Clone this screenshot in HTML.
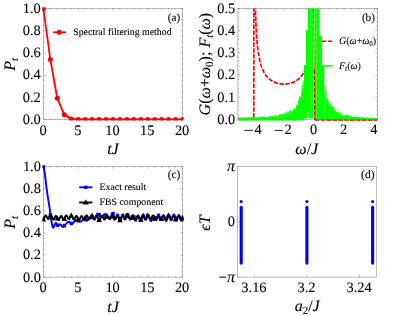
<!DOCTYPE html>
<html><head><meta charset="utf-8"><title>fig</title>
<style>
html,body{margin:0;padding:0;background:#fff;}
svg text{stroke:#000;stroke-width:0.1px;}
svg{display:block;will-change:transform;text-rendering:geometricPrecision;font-family:"Liberation Serif",serif;fill:#000;}
</style></head><body>
<svg width="395" height="316" viewBox="0 0 395 316">
<rect width="395" height="316" fill="#fff"/>
<rect x="43.40" y="8.50" width="139.10" height="110.90" fill="none" stroke="#9a9a9a" stroke-width="0.7"/>
<path d="M43.40 119.40v-2.2M43.40 8.50v2.2" stroke="#808080" stroke-width="0.55"/>
<path d="M50.35 119.40v-1.3M50.35 8.50v1.3" stroke="#808080" stroke-width="0.55"/>
<path d="M57.31 119.40v-1.3M57.31 8.50v1.3" stroke="#808080" stroke-width="0.55"/>
<path d="M64.27 119.40v-1.3M64.27 8.50v1.3" stroke="#808080" stroke-width="0.55"/>
<path d="M71.22 119.40v-1.3M71.22 8.50v1.3" stroke="#808080" stroke-width="0.55"/>
<path d="M78.17 119.40v-2.2M78.17 8.50v2.2" stroke="#808080" stroke-width="0.55"/>
<path d="M85.13 119.40v-1.3M85.13 8.50v1.3" stroke="#808080" stroke-width="0.55"/>
<path d="M92.08 119.40v-1.3M92.08 8.50v1.3" stroke="#808080" stroke-width="0.55"/>
<path d="M99.04 119.40v-1.3M99.04 8.50v1.3" stroke="#808080" stroke-width="0.55"/>
<path d="M105.99 119.40v-1.3M105.99 8.50v1.3" stroke="#808080" stroke-width="0.55"/>
<path d="M112.95 119.40v-2.2M112.95 8.50v2.2" stroke="#808080" stroke-width="0.55"/>
<path d="M119.91 119.40v-1.3M119.91 8.50v1.3" stroke="#808080" stroke-width="0.55"/>
<path d="M126.86 119.40v-1.3M126.86 8.50v1.3" stroke="#808080" stroke-width="0.55"/>
<path d="M133.81 119.40v-1.3M133.81 8.50v1.3" stroke="#808080" stroke-width="0.55"/>
<path d="M140.77 119.40v-1.3M140.77 8.50v1.3" stroke="#808080" stroke-width="0.55"/>
<path d="M147.72 119.40v-2.2M147.72 8.50v2.2" stroke="#808080" stroke-width="0.55"/>
<path d="M154.68 119.40v-1.3M154.68 8.50v1.3" stroke="#808080" stroke-width="0.55"/>
<path d="M161.63 119.40v-1.3M161.63 8.50v1.3" stroke="#808080" stroke-width="0.55"/>
<path d="M168.59 119.40v-1.3M168.59 8.50v1.3" stroke="#808080" stroke-width="0.55"/>
<path d="M175.55 119.40v-1.3M175.55 8.50v1.3" stroke="#808080" stroke-width="0.55"/>
<path d="M182.50 119.40v-2.2M182.50 8.50v2.2" stroke="#808080" stroke-width="0.55"/>
<path d="M43.40 119.40h2.2M182.50 119.40h-2.2" stroke="#808080" stroke-width="0.55"/>
<path d="M43.40 113.86h1.3M182.50 113.86h-1.3" stroke="#808080" stroke-width="0.55"/>
<path d="M43.40 108.31h1.3M182.50 108.31h-1.3" stroke="#808080" stroke-width="0.55"/>
<path d="M43.40 102.77h1.3M182.50 102.77h-1.3" stroke="#808080" stroke-width="0.55"/>
<path d="M43.40 97.22h2.2M182.50 97.22h-2.2" stroke="#808080" stroke-width="0.55"/>
<path d="M43.40 91.68h1.3M182.50 91.68h-1.3" stroke="#808080" stroke-width="0.55"/>
<path d="M43.40 86.13h1.3M182.50 86.13h-1.3" stroke="#808080" stroke-width="0.55"/>
<path d="M43.40 80.59h1.3M182.50 80.59h-1.3" stroke="#808080" stroke-width="0.55"/>
<path d="M43.40 75.04h2.2M182.50 75.04h-2.2" stroke="#808080" stroke-width="0.55"/>
<path d="M43.40 69.50h1.3M182.50 69.50h-1.3" stroke="#808080" stroke-width="0.55"/>
<path d="M43.40 63.95h1.3M182.50 63.95h-1.3" stroke="#808080" stroke-width="0.55"/>
<path d="M43.40 58.41h1.3M182.50 58.41h-1.3" stroke="#808080" stroke-width="0.55"/>
<path d="M43.40 52.86h2.2M182.50 52.86h-2.2" stroke="#808080" stroke-width="0.55"/>
<path d="M43.40 47.31h1.3M182.50 47.31h-1.3" stroke="#808080" stroke-width="0.55"/>
<path d="M43.40 41.77h1.3M182.50 41.77h-1.3" stroke="#808080" stroke-width="0.55"/>
<path d="M43.40 36.22h1.3M182.50 36.22h-1.3" stroke="#808080" stroke-width="0.55"/>
<path d="M43.40 30.68h2.2M182.50 30.68h-2.2" stroke="#808080" stroke-width="0.55"/>
<path d="M43.40 25.13h1.3M182.50 25.13h-1.3" stroke="#808080" stroke-width="0.55"/>
<path d="M43.40 19.59h1.3M182.50 19.59h-1.3" stroke="#808080" stroke-width="0.55"/>
<path d="M43.40 14.04h1.3M182.50 14.04h-1.3" stroke="#808080" stroke-width="0.55"/>
<path d="M43.40 8.50h2.2M182.50 8.50h-2.2" stroke="#808080" stroke-width="0.55"/>
<text x="40.80" y="123.70" font-size="14.4" text-anchor="end"  style="">0.0</text>
<text x="40.80" y="101.52" font-size="14.4" text-anchor="end"  style="">0.2</text>
<text x="40.80" y="79.34" font-size="14.4" text-anchor="end"  style="">0.4</text>
<text x="40.80" y="57.16" font-size="14.4" text-anchor="end"  style="">0.6</text>
<text x="40.80" y="34.98" font-size="14.4" text-anchor="end"  style="">0.8</text>
<text x="40.80" y="12.80" font-size="14.4" text-anchor="end"  style="">1.0</text>
<text x="43.00" y="134.50" font-size="14.4" text-anchor="middle"  style="">0</text>
<text x="77.77" y="134.50" font-size="14.4" text-anchor="middle"  style="">5</text>
<text x="112.55" y="134.50" font-size="14.4" text-anchor="middle"  style="">10</text>
<text x="147.32" y="134.50" font-size="14.4" text-anchor="middle"  style="">15</text>
<text x="182.10" y="134.50" font-size="14.4" text-anchor="middle"  style="">20</text>
<text x="112.95" y="153.90" font-size="16" text-anchor="middle"  style=""><tspan font-style="italic">tJ</tspan></text>
<text transform="translate(15.3,64.3) rotate(-90)" font-size="16" text-anchor="middle" font-style="italic">P<tspan font-size="11" dy="3">t</tspan></text>
<clipPath id="ca"><rect x="42.199999999999996" y="7.3" width="141.5" height="113.30000000000001"/></clipPath>
<g clip-path="url(#ca)">
<polyline points="43.40,8.50 50.35,59.51 57.31,98.33 64.27,114.63 71.22,118.96 78.17,119.40 85.13,119.40 92.08,119.40 99.04,119.40 105.99,119.40 112.95,119.40 119.91,119.40 126.86,119.40 133.81,119.40 140.77,119.40 147.72,119.40 154.68,119.40 161.63,119.40 168.59,119.40 175.55,119.40 182.50,119.40" fill="none" stroke="#f00" stroke-width="1.8" stroke-linejoin="round"/>
<circle cx="43.40" cy="8.50" r="2.5" fill="#f00"/>
<circle cx="50.35" cy="59.51" r="2.5" fill="#f00"/>
<circle cx="57.31" cy="98.33" r="2.5" fill="#f00"/>
<circle cx="64.27" cy="114.63" r="2.5" fill="#f00"/>
<circle cx="71.22" cy="118.96" r="2.5" fill="#f00"/>
<circle cx="78.17" cy="119.40" r="2.5" fill="#f00"/>
<circle cx="85.13" cy="119.40" r="2.5" fill="#f00"/>
<circle cx="92.08" cy="119.40" r="2.5" fill="#f00"/>
<circle cx="99.04" cy="119.40" r="2.5" fill="#f00"/>
<circle cx="105.99" cy="119.40" r="2.5" fill="#f00"/>
<circle cx="112.95" cy="119.40" r="2.5" fill="#f00"/>
<circle cx="119.91" cy="119.40" r="2.5" fill="#f00"/>
<circle cx="126.86" cy="119.40" r="2.5" fill="#f00"/>
<circle cx="133.81" cy="119.40" r="2.5" fill="#f00"/>
<circle cx="140.77" cy="119.40" r="2.5" fill="#f00"/>
<circle cx="147.72" cy="119.40" r="2.5" fill="#f00"/>
<circle cx="154.68" cy="119.40" r="2.5" fill="#f00"/>
<circle cx="161.63" cy="119.40" r="2.5" fill="#f00"/>
<circle cx="168.59" cy="119.40" r="2.5" fill="#f00"/>
<circle cx="175.55" cy="119.40" r="2.5" fill="#f00"/>
<circle cx="182.50" cy="119.40" r="2.5" fill="#f00"/>
</g>
<path d="M53 32.3h13" stroke="#f00" stroke-width="1.8"/><circle cx="59.2" cy="32.3" r="2.5" fill="#f00"/>
<text x="73.20" y="35.30" font-size="9.85" text-anchor="start"  style="">Spectral filtering method</text>
<text x="174.00" y="21.00" font-size="11.2" text-anchor="middle"  style="">(a)</text>
<rect x="43.50" y="166.50" width="139.00" height="110.70" fill="none" stroke="#9a9a9a" stroke-width="0.7"/>
<path d="M43.50 277.20v-2.2M43.50 166.50v2.2" stroke="#808080" stroke-width="0.55"/>
<path d="M50.45 277.20v-1.3M50.45 166.50v1.3" stroke="#808080" stroke-width="0.55"/>
<path d="M57.40 277.20v-1.3M57.40 166.50v1.3" stroke="#808080" stroke-width="0.55"/>
<path d="M64.35 277.20v-1.3M64.35 166.50v1.3" stroke="#808080" stroke-width="0.55"/>
<path d="M71.30 277.20v-1.3M71.30 166.50v1.3" stroke="#808080" stroke-width="0.55"/>
<path d="M78.25 277.20v-2.2M78.25 166.50v2.2" stroke="#808080" stroke-width="0.55"/>
<path d="M85.20 277.20v-1.3M85.20 166.50v1.3" stroke="#808080" stroke-width="0.55"/>
<path d="M92.15 277.20v-1.3M92.15 166.50v1.3" stroke="#808080" stroke-width="0.55"/>
<path d="M99.10 277.20v-1.3M99.10 166.50v1.3" stroke="#808080" stroke-width="0.55"/>
<path d="M106.05 277.20v-1.3M106.05 166.50v1.3" stroke="#808080" stroke-width="0.55"/>
<path d="M113.00 277.20v-2.2M113.00 166.50v2.2" stroke="#808080" stroke-width="0.55"/>
<path d="M119.95 277.20v-1.3M119.95 166.50v1.3" stroke="#808080" stroke-width="0.55"/>
<path d="M126.90 277.20v-1.3M126.90 166.50v1.3" stroke="#808080" stroke-width="0.55"/>
<path d="M133.85 277.20v-1.3M133.85 166.50v1.3" stroke="#808080" stroke-width="0.55"/>
<path d="M140.80 277.20v-1.3M140.80 166.50v1.3" stroke="#808080" stroke-width="0.55"/>
<path d="M147.75 277.20v-2.2M147.75 166.50v2.2" stroke="#808080" stroke-width="0.55"/>
<path d="M154.70 277.20v-1.3M154.70 166.50v1.3" stroke="#808080" stroke-width="0.55"/>
<path d="M161.65 277.20v-1.3M161.65 166.50v1.3" stroke="#808080" stroke-width="0.55"/>
<path d="M168.60 277.20v-1.3M168.60 166.50v1.3" stroke="#808080" stroke-width="0.55"/>
<path d="M175.55 277.20v-1.3M175.55 166.50v1.3" stroke="#808080" stroke-width="0.55"/>
<path d="M182.50 277.20v-2.2M182.50 166.50v2.2" stroke="#808080" stroke-width="0.55"/>
<path d="M43.50 277.20h2.2M182.50 277.20h-2.2" stroke="#808080" stroke-width="0.55"/>
<path d="M43.50 271.66h1.3M182.50 271.66h-1.3" stroke="#808080" stroke-width="0.55"/>
<path d="M43.50 266.13h1.3M182.50 266.13h-1.3" stroke="#808080" stroke-width="0.55"/>
<path d="M43.50 260.59h1.3M182.50 260.59h-1.3" stroke="#808080" stroke-width="0.55"/>
<path d="M43.50 255.06h2.2M182.50 255.06h-2.2" stroke="#808080" stroke-width="0.55"/>
<path d="M43.50 249.52h1.3M182.50 249.52h-1.3" stroke="#808080" stroke-width="0.55"/>
<path d="M43.50 243.99h1.3M182.50 243.99h-1.3" stroke="#808080" stroke-width="0.55"/>
<path d="M43.50 238.45h1.3M182.50 238.45h-1.3" stroke="#808080" stroke-width="0.55"/>
<path d="M43.50 232.92h2.2M182.50 232.92h-2.2" stroke="#808080" stroke-width="0.55"/>
<path d="M43.50 227.38h1.3M182.50 227.38h-1.3" stroke="#808080" stroke-width="0.55"/>
<path d="M43.50 221.85h1.3M182.50 221.85h-1.3" stroke="#808080" stroke-width="0.55"/>
<path d="M43.50 216.31h1.3M182.50 216.31h-1.3" stroke="#808080" stroke-width="0.55"/>
<path d="M43.50 210.78h2.2M182.50 210.78h-2.2" stroke="#808080" stroke-width="0.55"/>
<path d="M43.50 205.25h1.3M182.50 205.25h-1.3" stroke="#808080" stroke-width="0.55"/>
<path d="M43.50 199.71h1.3M182.50 199.71h-1.3" stroke="#808080" stroke-width="0.55"/>
<path d="M43.50 194.18h1.3M182.50 194.18h-1.3" stroke="#808080" stroke-width="0.55"/>
<path d="M43.50 188.64h2.2M182.50 188.64h-2.2" stroke="#808080" stroke-width="0.55"/>
<path d="M43.50 183.10h1.3M182.50 183.10h-1.3" stroke="#808080" stroke-width="0.55"/>
<path d="M43.50 177.57h1.3M182.50 177.57h-1.3" stroke="#808080" stroke-width="0.55"/>
<path d="M43.50 172.03h1.3M182.50 172.03h-1.3" stroke="#808080" stroke-width="0.55"/>
<path d="M43.50 166.50h2.2M182.50 166.50h-2.2" stroke="#808080" stroke-width="0.55"/>
<text x="40.90" y="281.50" font-size="14.4" text-anchor="end"  style="">0.0</text>
<text x="40.90" y="259.36" font-size="14.4" text-anchor="end"  style="">0.2</text>
<text x="40.90" y="237.22" font-size="14.4" text-anchor="end"  style="">0.4</text>
<text x="40.90" y="215.08" font-size="14.4" text-anchor="end"  style="">0.6</text>
<text x="40.90" y="192.94" font-size="14.4" text-anchor="end"  style="">0.8</text>
<text x="40.90" y="170.80" font-size="14.4" text-anchor="end"  style="">1.0</text>
<text x="43.10" y="292.30" font-size="14.4" text-anchor="middle"  style="">0</text>
<text x="77.85" y="292.30" font-size="14.4" text-anchor="middle"  style="">5</text>
<text x="112.60" y="292.30" font-size="14.4" text-anchor="middle"  style="">10</text>
<text x="147.35" y="292.30" font-size="14.4" text-anchor="middle"  style="">15</text>
<text x="182.10" y="292.30" font-size="14.4" text-anchor="middle"  style="">20</text>
<text x="113.00" y="311.90" font-size="16" text-anchor="middle"  style=""><tspan font-style="italic">tJ</tspan></text>
<text transform="translate(15.3,222.3) rotate(-90)" font-size="16" text-anchor="middle" font-style="italic">P<tspan font-size="11" dy="3">t</tspan></text>
<g clip-path="url(#cc)">
<clipPath id="cc"><rect x="42.3" y="165.3" width="141.4" height="113.1"/></clipPath>
<polyline points="43.50,166.50 43.57,166.87 43.65,167.31 43.75,167.82 43.87,168.40 43.99,169.03 44.12,169.71 44.25,170.42 44.39,171.17 44.52,171.93 44.65,172.70 44.77,173.48 44.89,174.25 45.00,175.03 45.10,175.85 45.21,176.70 45.31,177.57 45.41,178.46 45.51,179.36 45.61,180.28 45.71,181.20 45.81,182.13 45.92,183.05 46.03,183.97 46.14,184.88 46.26,185.78 46.38,186.67 46.50,187.57 46.62,188.47 46.74,189.37 46.87,190.28 46.99,191.19 47.12,192.10 47.26,193.03 47.39,193.95 47.53,194.89 47.67,195.84 47.82,196.79 47.97,197.76 48.12,198.73 48.28,199.71 48.44,200.70 48.60,201.70 48.77,202.69 48.93,203.69 49.09,204.69 49.25,205.69 49.40,206.69 49.55,207.68 49.69,208.69 49.83,209.71 49.96,210.75 50.09,211.80 50.22,212.86 50.35,213.90 50.47,214.93 50.60,215.94 50.73,216.92 50.87,217.87 51.00,218.78 51.15,219.64 51.29,220.47 51.44,221.32 51.60,222.17 51.76,222.99 51.92,223.79 52.08,224.56 52.25,225.26 52.41,225.91 52.57,226.48 52.72,226.96 52.87,227.34 53.02,227.61 53.17,227.74 53.31,227.73 53.45,227.60 53.58,227.37 53.72,227.07 53.85,226.71 53.98,226.32 54.11,225.92 54.24,225.53 54.37,225.17 54.49,224.85 54.62,224.62 54.74,224.42 54.86,224.21 54.97,224.00 55.07,223.79 55.18,223.59 55.28,223.41 55.39,223.24 55.50,223.11 55.62,223.01 55.74,222.94 55.87,222.92 56.01,222.96 56.16,223.06 56.32,223.25 56.48,223.51 56.65,223.82 56.83,224.16 57.01,224.51 57.19,224.87 57.37,225.21 57.56,225.51 57.74,225.77 57.92,225.95 58.09,226.06 58.27,226.07 58.43,225.99 58.60,225.86 58.76,225.67 58.93,225.45 59.09,225.21 59.26,224.96 59.43,224.74 59.61,224.54 59.79,224.39 59.98,224.30 60.18,224.29 60.39,224.36 60.60,224.52 60.83,224.74 61.06,225.01 61.29,225.31 61.53,225.62 61.77,225.93 62.01,226.22 62.25,226.47 62.49,226.66 62.73,226.79 62.96,226.83 63.19,226.79 63.42,226.67 63.66,226.50 63.89,226.28 64.12,226.03 64.35,225.75 64.58,225.45 64.81,225.14 65.05,224.84 65.28,224.55 65.51,224.29 65.74,224.06 65.97,223.85 66.20,223.62 66.42,223.38 66.64,223.14 66.86,222.91 67.09,222.68 67.31,222.47 67.54,222.28 67.78,222.12 68.02,221.99 68.26,221.90 68.52,221.85 68.78,221.87 69.05,221.96 69.32,222.11 69.59,222.31 69.87,222.53 70.15,222.76 70.44,222.98 70.73,223.19 71.04,223.36 71.35,223.48 71.67,223.54 72.00,223.51 72.34,223.39 72.70,223.17 73.07,222.89 73.45,222.55 73.84,222.18 74.23,221.79 74.63,221.40 75.02,221.03 75.41,220.69 75.79,220.41 76.16,220.20 76.51,220.08 76.86,220.06 77.19,220.13 77.53,220.26 77.85,220.45 78.17,220.68 78.49,220.92 78.80,221.17 79.11,221.40 79.42,221.60 79.73,221.76 80.03,221.84 80.33,221.85 80.64,221.76 80.93,221.60 81.23,221.38 81.52,221.11 81.81,220.81 82.09,220.49 82.38,220.17 82.66,219.86 82.95,219.58 83.23,219.35 83.52,219.18 83.81,219.08 84.10,219.07 84.39,219.14 84.68,219.27 84.97,219.44 85.26,219.64 85.55,219.86 85.84,220.07 86.13,220.26 86.42,220.42 86.71,220.53 87.00,220.57 87.28,220.52 87.57,220.38 87.86,220.15 88.15,219.84 88.44,219.48 88.73,219.09 89.02,218.68 89.31,218.27 89.60,217.88 89.89,217.53 90.18,217.23 90.47,217.00 90.76,216.87 91.05,216.84 91.34,216.91 91.63,217.07 91.92,217.27 92.21,217.52 92.50,217.78 92.79,218.04 93.08,218.27 93.37,218.46 93.66,218.58 93.95,218.61 94.23,218.53 94.52,218.32 94.81,217.99 95.10,217.56 95.39,217.05 95.68,216.50 95.97,215.93 96.26,215.37 96.55,214.84 96.84,214.36 97.13,213.97 97.42,213.69 97.71,213.55 98.00,213.55 98.29,213.69 98.58,213.93 98.87,214.26 99.16,214.64 99.45,215.06 99.74,215.48 100.03,215.89 100.32,216.26 100.61,216.56 100.90,216.77 101.19,216.87 101.47,216.84 101.76,216.72 102.05,216.51 102.34,216.25 102.63,215.94 102.92,215.61 103.21,215.28 103.50,214.97 103.79,214.70 104.08,214.49 104.37,214.36 104.66,214.32 104.96,214.39 105.28,214.55 105.61,214.77 105.95,215.05 106.28,215.37 106.61,215.71 106.93,216.06 107.23,216.41 107.51,216.73 107.76,217.02 107.97,217.25 108.14,217.42 108.38,217.25 108.63,217.18 108.88,217.21 109.13,217.34 109.37,217.53 109.62,217.73 109.87,217.88 110.12,217.94 110.37,217.84 110.61,217.54 110.86,217.04 111.11,216.35 111.36,215.51 111.61,214.57 111.85,213.88 112.10,213.35 112.35,213.04 112.60,212.96 112.84,213.15 113.09,213.56 113.34,214.19 113.59,214.96 113.84,215.82 114.08,216.68 114.33,217.48 114.58,218.15 114.83,218.63 115.08,218.88 115.32,218.89 115.57,218.67 115.82,218.23 116.07,217.63 116.32,216.93 116.56,216.20 116.81,215.52 117.06,214.95 117.31,214.56 117.55,214.38 117.80,214.43 118.05,214.73 118.30,215.24 118.55,215.92 118.79,216.71 119.04,217.54 119.29,218.35 119.54,219.05 119.79,219.58 120.03,219.90 120.28,219.97 120.53,219.79 120.78,219.38 121.02,218.76 121.27,218.01 121.52,217.17 121.77,216.34 122.02,215.57 122.26,214.94 122.51,214.51 122.76,214.30 123.01,214.34 123.26,214.61 123.50,215.09 123.75,215.73 124.00,216.46 124.25,217.21 124.50,217.91 124.74,218.49 124.99,218.89 125.24,219.07 125.49,219.02 125.73,218.73 125.98,218.22 126.23,217.55 126.48,216.78 126.73,215.96 126.97,215.19 127.22,214.52 127.47,214.03 127.72,213.76 127.97,213.73 128.21,213.95 128.46,214.41 128.71,215.06 128.96,215.85 129.21,216.72 129.45,217.57 129.70,218.36 129.95,218.99 130.20,219.44 130.44,219.65 130.69,219.62 130.94,219.36 131.19,218.89 131.44,218.28 131.68,217.58 131.93,216.86 132.18,216.20 132.43,215.67 132.68,215.32 132.92,215.19 133.17,215.30 133.42,215.65 133.67,216.20 133.91,216.92 134.16,217.74 134.41,218.58 134.66,219.39 134.91,220.07 135.15,220.58 135.40,220.87 135.65,220.91 135.90,220.70 136.15,220.25 136.39,219.61 136.64,218.84 136.89,218.01 137.14,217.18 137.39,216.44 137.63,215.84 137.88,215.44 138.13,215.27 138.38,215.34 138.62,215.65 138.87,216.15 139.12,216.79 139.37,217.51 139.62,218.24 139.86,218.90 140.11,219.43 140.36,219.77 140.61,219.89 140.86,219.77 141.10,219.41 141.35,218.84 141.60,218.12 141.85,217.29 142.10,216.45 142.34,215.66 142.59,214.98 142.84,214.49 143.09,214.23 143.33,214.21 143.58,214.44 143.83,214.91 144.08,215.56 144.33,216.33 144.57,217.17 144.82,217.99 145.07,218.72 145.32,219.30 145.57,219.68 145.81,219.83 146.06,219.74 146.31,219.42 146.56,218.91 146.80,218.26 147.05,217.53 147.30,216.81 147.55,216.16 147.80,215.65 148.04,215.34 148.29,215.25 148.54,215.40 148.79,215.79 149.04,216.38 149.28,217.13 149.53,217.96 149.78,218.82 150.03,219.61 150.28,220.28 150.52,220.77 150.77,221.02 151.02,221.03 151.27,220.78 151.51,220.32 151.76,219.66 152.01,218.89 152.26,218.06 152.51,217.26 152.75,216.54 153.00,215.99 153.25,215.64 153.50,215.52 153.75,215.64 153.99,215.98 154.24,216.52 154.49,217.18 154.74,217.91 154.98,218.63 155.23,219.27 155.48,219.76 155.73,220.06 155.98,220.12 156.22,219.95 156.47,219.53 156.72,218.92 156.97,218.16 157.22,217.31 157.46,216.46 157.71,215.66 157.96,215.00 158.21,214.52 158.46,214.28 158.70,214.29 158.95,214.54 159.20,215.02 159.45,215.68 159.69,216.45 159.94,217.27 160.19,218.06 160.44,218.75 160.69,219.28 160.93,219.61 161.18,219.70 161.43,219.55 161.68,219.18 161.93,218.63 162.17,217.95 162.42,217.22 162.67,216.50 162.92,215.87 163.17,215.39 163.41,215.11 163.66,215.07 163.91,215.27 164.16,215.70 164.40,216.34 164.65,217.11 164.90,217.97 165.15,218.83 165.40,219.63 165.64,220.28 165.89,220.74 166.14,220.97 166.39,220.95 166.64,220.69 166.88,220.20 167.13,219.54 167.38,218.77 167.63,217.96 167.87,217.19 168.12,216.51 168.37,216.01 168.62,215.71 168.87,215.65 169.11,215.83 169.36,216.22 169.61,216.80 169.86,217.48 170.11,218.23 170.35,218.94 170.60,219.57 170.85,220.03 171.10,220.29 171.35,220.31 171.59,220.09 171.84,219.63 172.09,218.98 172.34,218.19 172.58,217.33 172.83,216.46 173.08,215.67 173.33,215.02 173.58,214.57 173.82,214.36 174.07,214.39 174.32,214.67 174.57,215.16 174.82,215.83 175.06,216.59 175.31,217.39 175.56,218.15 175.81,218.80 176.06,219.28 176.30,219.55 176.55,219.58 176.80,219.37 177.05,218.95 177.29,218.36 177.54,217.66 177.79,216.91 178.04,216.19 178.29,215.58 178.53,215.13 178.78,214.89 179.03,214.89 179.28,215.13 179.53,215.61 179.77,216.27 180.02,217.08 180.27,217.95 180.52,218.81 180.76,219.60 181.01,220.24 181.26,220.67 181.51,220.88 181.76,220.83 182.00,220.54 182.25,220.03 182.50,219.37" fill="none" stroke="#00f" stroke-width="1.9" stroke-linejoin="round"/>
<rect x="41.80" y="164.80" width="3.4" height="3.4" fill="#00f"/>
<rect x="48.75" y="213.23" width="3.4" height="3.4" fill="#00f"/>
<rect x="55.70" y="223.51" width="3.4" height="3.4" fill="#00f"/>
<rect x="62.65" y="224.05" width="3.4" height="3.4" fill="#00f"/>
<rect x="69.60" y="221.78" width="3.4" height="3.4" fill="#00f"/>
<rect x="76.55" y="218.98" width="3.4" height="3.4" fill="#00f"/>
<rect x="83.50" y="217.94" width="3.4" height="3.4" fill="#00f"/>
<rect x="90.45" y="215.82" width="3.4" height="3.4" fill="#00f"/>
<rect x="97.40" y="212.94" width="3.4" height="3.4" fill="#00f"/>
<rect x="104.35" y="213.35" width="3.4" height="3.4" fill="#00f"/>
<rect x="111.30" y="211.86" width="3.4" height="3.4" fill="#00f"/>
<rect x="118.25" y="218.20" width="3.4" height="3.4" fill="#00f"/>
<rect x="125.20" y="213.49" width="3.4" height="3.4" fill="#00f"/>
<rect x="132.15" y="215.22" width="3.4" height="3.4" fill="#00f"/>
<rect x="139.10" y="218.07" width="3.4" height="3.4" fill="#00f"/>
<rect x="146.05" y="213.95" width="3.4" height="3.4" fill="#00f"/>
<rect x="153.00" y="216.21" width="3.4" height="3.4" fill="#00f"/>
<rect x="159.95" y="217.48" width="3.4" height="3.4" fill="#00f"/>
<rect x="166.90" y="214.01" width="3.4" height="3.4" fill="#00f"/>
<rect x="173.85" y="216.45" width="3.4" height="3.4" fill="#00f"/>
<rect x="180.80" y="217.67" width="3.4" height="3.4" fill="#00f"/>
<polyline points="43.50,219.51 43.78,219.12 44.06,218.56 44.33,217.89 44.61,217.17 44.89,216.50 45.17,215.93 45.45,215.54 45.72,215.37 46.00,215.43 46.28,215.71 46.56,216.18 46.84,216.78 47.11,217.44 47.39,218.08 47.67,218.62 47.95,219.00 48.23,219.18 48.50,219.14 48.78,218.87 49.06,218.41 49.34,217.82 49.62,217.16 49.89,216.51 50.17,215.95 50.45,215.54 50.73,215.34 51.01,215.36 51.28,215.62 51.56,216.08 51.84,216.69 52.12,217.39 52.40,218.09 52.67,218.73 52.95,219.23 53.23,219.53 53.51,219.61 53.79,219.47 54.06,219.11 54.34,218.59 54.62,217.97 54.90,217.33 55.18,216.75 55.45,216.29 55.73,216.01 56.01,215.96 56.29,216.13 56.57,216.51 56.84,217.06 57.12,217.72 57.40,218.42 57.68,219.07 57.96,219.60 58.23,219.95 58.51,220.08 58.79,219.98 59.07,219.65 59.35,219.14 59.62,218.51 59.90,217.82 60.18,217.15 60.46,216.58 60.74,216.18 61.01,215.98 61.29,216.01 61.57,216.27 61.85,216.71 62.13,217.28 62.40,217.92 62.68,218.55 62.96,219.08 63.24,219.46 63.52,219.63 63.79,219.58 64.07,219.30 64.35,218.82 64.63,218.20 64.91,217.49 65.18,216.79 65.46,216.16 65.74,215.68 66.02,215.40 66.30,215.34 66.57,215.52 66.85,215.90 67.13,216.45 67.41,217.09 67.69,217.75 67.96,218.35 68.24,218.83 68.52,219.12 68.80,219.19 69.08,219.03 69.35,218.67 69.63,218.14 69.91,217.51 70.19,216.84 70.47,216.23 70.74,215.74 71.02,215.43 71.30,215.35 71.58,215.49 71.86,215.86 72.13,216.40 72.41,217.07 72.69,217.78 72.97,218.46 73.25,219.04 73.52,219.45 73.80,219.64 74.08,219.61 74.36,219.35 74.64,218.90 74.91,218.33 75.19,217.69 75.47,217.06 75.75,216.53 76.03,216.16 76.30,215.99 76.58,216.04 76.86,216.32 77.14,216.79 77.42,217.40 77.69,218.08 77.97,218.76 78.25,219.36 78.53,219.80 78.81,220.04 79.08,220.05 79.36,219.83 79.64,219.41 79.92,218.82 80.20,218.15 80.47,217.46 80.75,216.83 81.03,216.33 81.31,216.03 81.59,215.94 81.86,216.08 82.14,216.43 82.42,216.95 82.70,217.56 82.98,218.20 83.25,218.79 83.53,219.25 83.81,219.54 84.09,219.60 84.37,219.43 84.64,219.05 84.92,218.49 85.20,217.82 85.48,217.10 85.76,216.43 86.03,215.87 86.31,215.48 86.59,215.32 86.87,215.38 87.15,215.67 87.42,216.14 87.70,216.75 87.98,217.41 88.26,218.06 88.54,218.61 88.81,219.00 89.09,219.18 89.37,219.14 89.65,218.88 89.93,218.43 90.20,217.85 90.48,217.19 90.76,216.55 91.04,215.99 91.32,215.59 91.59,215.39 91.87,215.42 92.15,215.68 92.43,216.14 92.71,216.76 92.98,217.46 93.26,218.17 93.54,218.81 93.82,219.30 94.10,219.61 94.37,219.69 94.65,219.54 94.93,219.18 95.21,218.66 95.49,218.04 95.76,217.40 96.04,216.81 96.32,216.35 96.60,216.07 96.88,216.01 97.15,216.17 97.43,216.55 97.71,217.10 97.99,217.75 98.27,218.44 98.54,219.08 98.82,219.60 99.10,219.95 99.38,220.07 99.66,219.97 99.93,219.63 100.21,219.12 100.49,218.48 100.77,217.78 101.05,217.11 101.32,216.54 101.60,216.13 101.88,215.93 102.16,215.95 102.44,216.20 102.71,216.64 102.99,217.21 103.27,217.85 103.55,218.47 103.83,219.00 104.10,219.38 104.38,219.56 104.66,219.50 104.94,219.22 105.22,218.75 105.49,218.13 105.77,217.43 106.05,216.73 106.33,216.10 106.61,215.62 106.88,215.35 107.16,215.30 107.44,215.48 107.72,215.87 108.00,216.42 108.27,217.07 108.55,217.73 108.83,218.34 109.11,218.82 109.39,219.12 109.66,219.20 109.94,219.05 110.22,218.69 110.50,218.17 110.78,217.54 111.05,216.88 111.33,216.28 111.61,215.79 111.89,215.49 112.17,215.41 112.44,215.56 112.72,215.92 113.00,216.47 113.28,217.14 113.56,217.85 113.83,218.54 114.11,219.12 114.39,219.52 114.67,219.72 114.95,219.68 115.22,219.42 115.50,218.98 115.78,218.40 116.06,217.75 116.34,217.13 116.61,216.59 116.89,216.21 117.17,216.03 117.45,216.08 117.73,216.36 118.00,216.82 118.28,217.43 118.56,218.10 118.84,218.78 119.12,219.36 119.39,219.80 119.67,220.03 119.95,220.04 120.23,219.81 120.51,219.38 120.78,218.79 121.06,218.11 121.34,217.41 121.62,216.78 121.90,216.28 122.17,215.97 122.45,215.88 122.73,216.02 123.01,216.36 123.29,216.88 123.56,217.49 123.84,218.13 124.12,218.71 124.40,219.18 124.68,219.46 124.95,219.52 125.23,219.35 125.51,218.97 125.79,218.42 126.07,217.75 126.34,217.04 126.62,216.37 126.90,215.82 127.18,215.43 127.46,215.27 127.73,215.34 128.01,215.63 128.29,216.11 128.57,216.73 128.85,217.40 129.12,218.05 129.40,218.60 129.68,219.00 129.96,219.20 130.24,219.16 130.51,218.91 130.79,218.46 131.07,217.88 131.35,217.23 131.63,216.60 131.90,216.04 132.18,215.65 132.46,215.45 132.74,215.49 133.02,215.75 133.29,216.21 133.57,216.83 133.85,217.53 134.13,218.24 134.41,218.88 134.68,219.38 134.96,219.69 135.24,219.77 135.52,219.61 135.80,219.25 136.07,218.73 136.35,218.11 136.63,217.46 136.91,216.87 137.19,216.40 137.46,216.12 137.74,216.05 138.02,216.21 138.30,216.58 138.58,217.12 138.85,217.77 139.13,218.45 139.41,219.08 139.69,219.60 139.97,219.94 140.24,220.06 140.52,219.94 140.80,219.60 141.08,219.08 141.36,218.43 141.63,217.73 141.91,217.06 142.19,216.48 142.47,216.07 142.75,215.86 143.02,215.88 143.30,216.13 143.58,216.57 143.86,217.14 144.14,217.77 144.41,218.39 144.69,218.93 144.97,219.31 145.25,219.48 145.53,219.43 145.80,219.15 146.08,218.68 146.36,218.06 146.64,217.37 146.92,216.67 147.19,216.05 147.47,215.58 147.75,215.30 148.03,215.26 148.31,215.45 148.58,215.84 148.86,216.40 149.14,217.05 149.42,217.73 149.70,218.35 149.97,218.83 150.25,219.14 150.53,219.22 150.81,219.08 151.09,218.73 151.36,218.21 151.64,217.59 151.92,216.93 152.20,216.33 152.48,215.85 152.75,215.55 153.03,215.47 153.31,215.63 153.59,216.00 153.87,216.55 154.14,217.22 154.42,217.93 154.70,218.61 154.98,219.19 155.26,219.60 155.53,219.79 155.81,219.75 156.09,219.49 156.37,219.04 156.65,218.46 156.92,217.81 157.20,217.18 157.48,216.64 157.76,216.25 158.04,216.07 158.31,216.11 158.59,216.38 158.87,216.84 159.15,217.44 159.43,218.11 159.70,218.77 159.98,219.36 160.26,219.79 160.54,220.01 160.82,220.01 161.09,219.78 161.37,219.34 161.65,218.75 161.93,218.06 162.21,217.36 162.48,216.72 162.76,216.22 163.04,215.90 163.32,215.81 163.60,215.94 163.87,216.29 164.15,216.80 164.43,217.41 164.71,218.05 164.99,218.64 165.26,219.10 165.54,219.38 165.82,219.45 166.10,219.29 166.38,218.91 166.65,218.35 166.93,217.69 167.21,216.99 167.49,216.32 167.77,215.77 168.04,215.40 168.32,215.24 168.60,215.31 168.88,215.61 169.16,216.10 169.43,216.72 169.71,217.40 169.99,218.05 170.27,218.62 170.55,219.02 170.82,219.22 171.10,219.19 171.38,218.95 171.66,218.51 171.94,217.93 172.21,217.29 172.49,216.65 172.77,216.11 173.05,215.71 173.33,215.52 173.60,215.56 173.88,215.82 174.16,216.29 174.44,216.91 174.72,217.61 174.99,218.32 175.27,218.96 175.55,219.46 175.83,219.76 176.11,219.84 176.38,219.68 176.66,219.32 176.94,218.79 177.22,218.16 177.50,217.51 177.77,216.91 178.05,216.44 178.33,216.15 178.61,216.08 178.89,216.23 179.16,216.60 179.44,217.13 179.72,217.77 180.00,218.44 180.28,219.07 180.55,219.58 180.83,219.91 181.11,220.03 181.39,219.91 181.67,219.56 181.94,219.04 182.22,218.38 182.50,217.68" fill="none" stroke="#000" stroke-width="1.9" stroke-linejoin="round"/>
<path d="M40.70 221.61L43.50 216.61L46.30 221.61Z" fill="#000"/>
<path d="M47.65 217.64L50.45 212.64L53.25 217.64Z" fill="#000"/>
<path d="M54.60 220.52L57.40 215.52L60.20 220.52Z" fill="#000"/>
<path d="M61.55 220.92L64.35 215.92L67.15 220.92Z" fill="#000"/>
<path d="M68.50 217.45L71.30 212.45L74.10 217.45Z" fill="#000"/>
<path d="M75.45 221.46L78.25 216.46L81.05 221.46Z" fill="#000"/>
<path d="M82.40 219.92L85.20 214.92L88.00 219.92Z" fill="#000"/>
<path d="M89.35 217.78L92.15 212.78L94.95 217.78Z" fill="#000"/>
<path d="M96.30 222.05L99.10 217.05L101.90 222.05Z" fill="#000"/>
<path d="M103.25 218.83L106.05 213.83L108.85 218.83Z" fill="#000"/>
<path d="M110.20 218.57L113.00 213.57L115.80 218.57Z" fill="#000"/>
<path d="M117.15 222.14L119.95 217.14L122.75 222.14Z" fill="#000"/>
<path d="M124.10 217.92L126.90 212.92L129.70 217.92Z" fill="#000"/>
<path d="M131.05 219.63L133.85 214.63L136.65 219.63Z" fill="#000"/>
<path d="M138.00 221.70L140.80 216.70L143.60 221.70Z" fill="#000"/>
<path d="M144.95 217.40L147.75 212.40L150.55 217.40Z" fill="#000"/>
<path d="M151.90 220.71L154.70 215.71L157.50 220.71Z" fill="#000"/>
<path d="M158.85 220.85L161.65 215.85L164.45 220.85Z" fill="#000"/>
<path d="M165.80 217.41L168.60 212.41L171.40 217.41Z" fill="#000"/>
<path d="M172.75 221.56L175.55 216.56L178.35 221.56Z" fill="#000"/>
<path d="M179.70 219.78L182.50 214.78L185.30 219.78Z" fill="#000"/>
</g>
<path d="M79.2 187.3h13.2" stroke="#00f" stroke-width="1.9"/><rect x="84.1" y="185.6" width="3.4" height="3.4" fill="#00f"/>
<path d="M79.2 202.5h13.2" stroke="#000" stroke-width="1.9"/><path d="M82.8 204.6L85.8 199.4L88.8 204.6Z" fill="#000"/>
<text x="99.50" y="190.00" font-size="9.85" text-anchor="start"  style="">Exact result</text>
<text x="99.50" y="205.10" font-size="9.85" text-anchor="start"  style="">FBS component</text>
<text x="174.00" y="177.90" font-size="11.4" text-anchor="middle"  style="">(c)</text>
<rect x="237.90" y="8.50" width="139.60" height="110.90" fill="none" stroke="#9a9a9a" stroke-width="0.7"/>
<path d="M238.75 119.40v-1.3M238.75 8.50v1.3" stroke="#808080" stroke-width="0.55"/>
<path d="M246.27 119.40v-1.3M246.27 8.50v1.3" stroke="#808080" stroke-width="0.55"/>
<path d="M253.80 119.40v-2.2M253.80 8.50v2.2" stroke="#808080" stroke-width="0.55"/>
<path d="M261.32 119.40v-1.3M261.32 8.50v1.3" stroke="#808080" stroke-width="0.55"/>
<path d="M268.85 119.40v-1.3M268.85 8.50v1.3" stroke="#808080" stroke-width="0.55"/>
<path d="M276.38 119.40v-1.3M276.38 8.50v1.3" stroke="#808080" stroke-width="0.55"/>
<path d="M283.90 119.40v-2.2M283.90 8.50v2.2" stroke="#808080" stroke-width="0.55"/>
<path d="M291.43 119.40v-1.3M291.43 8.50v1.3" stroke="#808080" stroke-width="0.55"/>
<path d="M298.95 119.40v-1.3M298.95 8.50v1.3" stroke="#808080" stroke-width="0.55"/>
<path d="M306.48 119.40v-1.3M306.48 8.50v1.3" stroke="#808080" stroke-width="0.55"/>
<path d="M314.00 119.40v-2.2M314.00 8.50v2.2" stroke="#808080" stroke-width="0.55"/>
<path d="M321.52 119.40v-1.3M321.52 8.50v1.3" stroke="#808080" stroke-width="0.55"/>
<path d="M329.05 119.40v-1.3M329.05 8.50v1.3" stroke="#808080" stroke-width="0.55"/>
<path d="M336.57 119.40v-1.3M336.57 8.50v1.3" stroke="#808080" stroke-width="0.55"/>
<path d="M344.10 119.40v-2.2M344.10 8.50v2.2" stroke="#808080" stroke-width="0.55"/>
<path d="M351.62 119.40v-1.3M351.62 8.50v1.3" stroke="#808080" stroke-width="0.55"/>
<path d="M359.15 119.40v-1.3M359.15 8.50v1.3" stroke="#808080" stroke-width="0.55"/>
<path d="M366.68 119.40v-1.3M366.68 8.50v1.3" stroke="#808080" stroke-width="0.55"/>
<path d="M374.20 119.40v-2.2M374.20 8.50v2.2" stroke="#808080" stroke-width="0.55"/>
<path d="M237.90 119.40h2.2M377.50 119.40h-2.2" stroke="#808080" stroke-width="0.55"/>
<path d="M237.90 114.96h1.3M377.50 114.96h-1.3" stroke="#808080" stroke-width="0.55"/>
<path d="M237.90 110.53h1.3M377.50 110.53h-1.3" stroke="#808080" stroke-width="0.55"/>
<path d="M237.90 106.09h1.3M377.50 106.09h-1.3" stroke="#808080" stroke-width="0.55"/>
<path d="M237.90 101.66h1.3M377.50 101.66h-1.3" stroke="#808080" stroke-width="0.55"/>
<path d="M237.90 97.22h2.2M377.50 97.22h-2.2" stroke="#808080" stroke-width="0.55"/>
<path d="M237.90 92.78h1.3M377.50 92.78h-1.3" stroke="#808080" stroke-width="0.55"/>
<path d="M237.90 88.35h1.3M377.50 88.35h-1.3" stroke="#808080" stroke-width="0.55"/>
<path d="M237.90 83.91h1.3M377.50 83.91h-1.3" stroke="#808080" stroke-width="0.55"/>
<path d="M237.90 79.48h1.3M377.50 79.48h-1.3" stroke="#808080" stroke-width="0.55"/>
<path d="M237.90 75.04h2.2M377.50 75.04h-2.2" stroke="#808080" stroke-width="0.55"/>
<path d="M237.90 70.60h1.3M377.50 70.60h-1.3" stroke="#808080" stroke-width="0.55"/>
<path d="M237.90 66.17h1.3M377.50 66.17h-1.3" stroke="#808080" stroke-width="0.55"/>
<path d="M237.90 61.73h1.3M377.50 61.73h-1.3" stroke="#808080" stroke-width="0.55"/>
<path d="M237.90 57.30h1.3M377.50 57.30h-1.3" stroke="#808080" stroke-width="0.55"/>
<path d="M237.90 52.86h2.2M377.50 52.86h-2.2" stroke="#808080" stroke-width="0.55"/>
<path d="M237.90 48.42h1.3M377.50 48.42h-1.3" stroke="#808080" stroke-width="0.55"/>
<path d="M237.90 43.99h1.3M377.50 43.99h-1.3" stroke="#808080" stroke-width="0.55"/>
<path d="M237.90 39.55h1.3M377.50 39.55h-1.3" stroke="#808080" stroke-width="0.55"/>
<path d="M237.90 35.12h1.3M377.50 35.12h-1.3" stroke="#808080" stroke-width="0.55"/>
<path d="M237.90 30.68h2.2M377.50 30.68h-2.2" stroke="#808080" stroke-width="0.55"/>
<path d="M237.90 26.24h1.3M377.50 26.24h-1.3" stroke="#808080" stroke-width="0.55"/>
<path d="M237.90 21.81h1.3M377.50 21.81h-1.3" stroke="#808080" stroke-width="0.55"/>
<path d="M237.90 17.37h1.3M377.50 17.37h-1.3" stroke="#808080" stroke-width="0.55"/>
<path d="M237.90 12.94h1.3M377.50 12.94h-1.3" stroke="#808080" stroke-width="0.55"/>
<path d="M237.90 8.50h2.2M377.50 8.50h-2.2" stroke="#808080" stroke-width="0.55"/>
<text x="235.30" y="123.70" font-size="14.4" text-anchor="end"  style="">0.0</text>
<text x="235.30" y="101.52" font-size="14.4" text-anchor="end"  style="">0.1</text>
<text x="235.30" y="79.34" font-size="14.4" text-anchor="end"  style="">0.2</text>
<text x="235.30" y="57.16" font-size="14.4" text-anchor="end"  style="">0.3</text>
<text x="235.30" y="34.98" font-size="14.4" text-anchor="end"  style="">0.4</text>
<text x="235.30" y="12.80" font-size="14.4" text-anchor="end"  style="">0.5</text>
<text x="254.50" y="134.40" font-size="14.4" text-anchor="start"  style="">4</text>
<path d="M244.50 130.40h8.3" stroke="#000" stroke-width="0.85"/>
<text x="284.60" y="134.40" font-size="14.4" text-anchor="start"  style="">2</text>
<path d="M274.60 130.40h8.3" stroke="#000" stroke-width="0.85"/>
<text x="313.60" y="134.40" font-size="14.4" text-anchor="middle"  style="">0</text>
<text x="343.70" y="134.40" font-size="14.4" text-anchor="middle"  style="">2</text>
<text x="373.80" y="134.40" font-size="14.4" text-anchor="middle"  style="">4</text>
<text x="306.80" y="153.90" font-size="16" text-anchor="middle"  style=""><tspan font-style="italic">ω</tspan>/<tspan font-style="italic">J</tspan></text>
<text transform="translate(209.8,64.1) rotate(-90)" font-size="16" text-anchor="middle"><tspan font-style="italic">G</tspan>(<tspan font-style="italic">ω</tspan>+<tspan font-style="italic">ω</tspan><tspan font-size="11" dy="3">0</tspan><tspan dy="-3">); </tspan><tspan font-style="italic">F</tspan><tspan font-size="11" dy="3" font-style="italic">t</tspan><tspan dy="-3">(</tspan><tspan font-style="italic">ω</tspan>)</text>
<clipPath id="cb"><rect x="237.9" y="8.5" width="139.6" height="112.4"/></clipPath>
<g clip-path="url(#cb)">
<polyline points="237.90,119.40 253.80,119.40 253.88,-35.86 253.95,-35.86 254.03,-35.86 254.10,-35.86 254.18,-35.86 254.25,-35.86 254.33,-35.86 254.40,-35.86 254.48,-35.86 254.55,-35.86 254.63,-32.17 254.70,-25.81 254.78,-20.20 254.85,-15.21 254.93,-10.73 255.00,-6.67 255.08,-2.99 255.15,0.38 255.23,3.49 255.31,6.35 255.38,9.00 255.46,11.47 255.53,13.77 255.61,15.93 255.68,17.96 255.76,19.86 255.83,21.66 255.91,23.36 255.98,24.97 256.06,26.50 256.13,27.95 256.21,29.33 256.28,30.65 256.36,31.90 256.43,33.11 256.51,34.26 256.58,35.36 256.66,36.42 256.73,37.44 256.81,38.41 256.89,39.36 256.96,40.26 257.04,41.14 257.11,41.98 257.19,42.79 257.26,43.58 257.34,44.34 257.41,45.08 257.49,45.79 257.56,46.48 257.64,47.15 257.71,47.80 257.79,48.44 257.86,49.05 257.94,49.64 258.01,50.22 258.09,50.79 258.16,51.33 258.24,51.87 258.31,52.39 258.39,52.89 258.47,53.39 258.54,53.87 258.62,54.34 258.69,54.80 258.77,55.25 258.84,55.68 258.92,56.11 258.99,56.53 259.07,56.94 259.14,57.33 259.22,57.72 259.29,58.11 259.37,58.48 259.44,58.85 259.52,59.20 259.59,59.56 259.67,59.90 259.74,60.24 259.82,60.57 259.90,60.89 259.97,61.21 260.05,61.52 260.12,61.82 260.20,62.12 260.27,62.42 260.35,62.71 260.42,62.99 260.50,63.27 260.57,63.54 260.65,63.81 260.72,64.07 260.80,64.33 260.87,64.59 260.95,64.84 261.02,65.09 261.10,65.33 261.17,65.57 261.25,65.80 261.32,66.03 261.40,66.26 261.48,66.48 261.55,66.70 261.63,66.92 261.70,67.13 261.78,67.34 261.85,67.55 261.93,67.75 262.00,67.95 262.08,68.15 262.15,68.34 262.23,68.53 262.30,68.72 262.38,68.91 262.45,69.09 262.53,69.27 262.60,69.45 262.68,69.63 262.75,69.80 262.83,69.97 262.91,70.14 262.98,70.30 263.06,70.47 263.13,70.63 263.21,70.79 263.28,70.95 263.36,71.10 263.43,71.25 263.51,71.41 263.58,71.56 263.66,71.70 263.73,71.85 263.81,71.99 263.88,72.13 263.96,72.27 264.03,72.41 264.11,72.55 264.18,72.68 264.26,72.82 264.33,72.95 264.41,73.08 264.49,73.21 264.56,73.33 264.64,73.46 264.71,73.58 264.79,73.70 264.86,73.83 264.94,73.94 265.01,74.06 265.09,74.18 265.16,74.29 265.24,74.41 265.31,74.52 265.39,74.63 265.46,74.74 265.54,74.85 265.61,74.96 265.69,75.07 265.76,75.17 265.84,75.27 265.92,75.38 265.99,75.48 266.07,75.58 266.14,75.68 266.22,75.78 266.29,75.87 266.37,75.97 266.44,76.07 266.52,76.16 266.59,76.25 266.67,76.35 266.74,76.44 266.82,76.53 266.89,76.62 266.97,76.70 267.04,76.79 267.12,76.88 267.19,76.96 267.27,77.05 267.35,77.13 267.42,77.22 267.50,77.30 267.57,77.38 267.65,77.46 267.72,77.54 267.80,77.62 267.87,77.69 267.95,77.77 268.02,77.85 268.10,77.92 268.17,78.00 268.25,78.07 268.32,78.15 268.40,78.22 268.47,78.29 268.55,78.36 268.62,78.43 268.70,78.50 268.77,78.57 268.85,78.64 268.93,78.71 269.00,78.77 269.08,78.84 269.15,78.90 269.23,78.97 269.30,79.03 269.38,79.10 269.45,79.16 269.53,79.22 269.60,79.29 269.68,79.35 269.75,79.41 269.83,79.47 269.90,79.53 269.98,79.59 270.05,79.64 270.13,79.70 270.20,79.76 270.28,79.81 270.36,79.87 270.43,79.93 270.51,79.98 270.58,80.04 270.66,80.09 270.73,80.14 270.81,80.20 270.88,80.25 270.96,80.30 271.03,80.35 271.11,80.40 271.18,80.45 271.26,80.50 271.33,80.55 271.41,80.60 271.48,80.65 271.56,80.70 271.63,80.74 271.71,80.79 271.78,80.84 271.86,80.88 271.94,80.93 272.01,80.97 272.09,81.02 272.16,81.06 272.24,81.11 272.31,81.15 272.39,81.19 272.46,81.24 272.54,81.28 272.61,81.32 272.69,81.36 272.76,81.40 272.84,81.44 272.91,81.48 272.99,81.52 273.06,81.56 273.14,81.60 273.21,81.64 273.29,81.68 273.37,81.72 273.44,81.75 273.52,81.79 273.59,81.83 273.67,81.86 273.74,81.90 273.82,81.93 273.89,81.97 273.97,82.00 274.04,82.04 274.12,82.07 274.19,82.11 274.27,82.14 274.34,82.17 274.42,82.21 274.49,82.24 274.57,82.27 274.64,82.30 274.72,82.33 274.79,82.36 274.87,82.39 274.95,82.43 275.02,82.46 275.10,82.48 275.17,82.51 275.25,82.54 275.32,82.57 275.40,82.60 275.47,82.63 275.55,82.66 275.62,82.68 275.70,82.71 275.77,82.74 275.85,82.76 275.92,82.79 276.00,82.82 276.07,82.84 276.15,82.87 276.22,82.89 276.30,82.92 276.38,82.94 276.45,82.97 276.53,82.99 276.60,83.01 276.68,83.04 276.75,83.06 276.83,83.08 276.90,83.10 276.98,83.13 277.05,83.15 277.13,83.17 277.20,83.19 277.28,83.21 277.35,83.23 277.43,83.25 277.50,83.27 277.58,83.29 277.65,83.31 277.73,83.33 277.80,83.35 277.88,83.37 277.96,83.39 278.03,83.41 278.11,83.43 278.18,83.44 278.26,83.46 278.33,83.48 278.41,83.50 278.48,83.51 278.56,83.53 278.63,83.55 278.71,83.56 278.78,83.58 278.86,83.59 278.93,83.61 279.01,83.62 279.08,83.64 279.16,83.65 279.23,83.67 279.31,83.68 279.38,83.70 279.46,83.71 279.54,83.72 279.61,83.74 279.69,83.75 279.76,83.76 279.84,83.77 279.91,83.79 279.99,83.80 280.06,83.81 280.14,83.82 280.21,83.83 280.29,83.84 280.36,83.85 280.44,83.86 280.51,83.87 280.59,83.88 280.66,83.89 280.74,83.90 280.81,83.91 280.89,83.92 280.97,83.93 281.04,83.94 281.12,83.95 281.19,83.96 281.27,83.96 281.34,83.97 281.42,83.98 281.49,83.99 281.57,83.99 281.64,84.00 281.72,84.01 281.79,84.01 281.87,84.02 281.94,84.02 282.02,84.03 282.09,84.04 282.17,84.04 282.24,84.05 282.32,84.05 282.39,84.06 282.47,84.06 282.55,84.06 282.62,84.07 282.70,84.07 282.77,84.07 282.85,84.08 282.92,84.08 283.00,84.08 283.07,84.09 283.15,84.09 283.22,84.09 283.30,84.09 283.37,84.09 283.45,84.10 283.52,84.10 283.60,84.10 283.67,84.10 283.75,84.10 283.82,84.10 283.90,84.10 283.98,84.10 284.05,84.10 284.13,84.10 284.20,84.10 284.28,84.10 284.35,84.10 284.43,84.09 284.50,84.09 284.58,84.09 284.65,84.09 284.73,84.09 284.80,84.08 284.88,84.08 284.95,84.08 285.03,84.07 285.10,84.07 285.18,84.07 285.25,84.06 285.33,84.06 285.40,84.06 285.48,84.05 285.56,84.05 285.63,84.04 285.71,84.04 285.78,84.03 285.86,84.02 285.93,84.02 286.01,84.01 286.08,84.01 286.16,84.00 286.23,83.99 286.31,83.99 286.38,83.98 286.46,83.97 286.53,83.96 286.61,83.96 286.68,83.95 286.76,83.94 286.83,83.93 286.91,83.92 286.99,83.91 287.06,83.90 287.14,83.89 287.21,83.88 287.29,83.87 287.36,83.86 287.44,83.85 287.51,83.84 287.59,83.83 287.66,83.82 287.74,83.81 287.81,83.80 287.89,83.79 287.96,83.77 288.04,83.76 288.11,83.75 288.19,83.74 288.26,83.72 288.34,83.71 288.42,83.70 288.49,83.68 288.57,83.67 288.64,83.65 288.72,83.64 288.79,83.62 288.87,83.61 288.94,83.59 289.02,83.58 289.09,83.56 289.17,83.55 289.24,83.53 289.32,83.51 289.39,83.50 289.47,83.48 289.54,83.46 289.62,83.44 289.69,83.43 289.77,83.41 289.84,83.39 289.92,83.37 290.00,83.35 290.07,83.33 290.15,83.31 290.22,83.29 290.30,83.27 290.37,83.25 290.45,83.23 290.52,83.21 290.60,83.19 290.67,83.17 290.75,83.15 290.82,83.13 290.90,83.10 290.97,83.08 291.05,83.06 291.12,83.04 291.20,83.01 291.27,82.99 291.35,82.97 291.43,82.94 291.50,82.92 291.58,82.89 291.65,82.87 291.73,82.84 291.80,82.82 291.88,82.79 291.95,82.76 292.03,82.74 292.10,82.71 292.18,82.68 292.25,82.66 292.33,82.63 292.40,82.60 292.48,82.57 292.55,82.54 292.63,82.51 292.70,82.48 292.78,82.46 292.85,82.43 292.93,82.39 293.01,82.36 293.08,82.33 293.16,82.30 293.23,82.27 293.31,82.24 293.38,82.21 293.46,82.17 293.53,82.14 293.61,82.11 293.68,82.07 293.76,82.04 293.83,82.00 293.91,81.97 293.98,81.93 294.06,81.90 294.13,81.86 294.21,81.83 294.28,81.79 294.36,81.75 294.44,81.72 294.51,81.68 294.59,81.64 294.66,81.60 294.74,81.56 294.81,81.52 294.89,81.48 294.96,81.44 295.04,81.40 295.11,81.36 295.19,81.32 295.26,81.28 295.34,81.24 295.41,81.19 295.49,81.15 295.56,81.11 295.64,81.06 295.71,81.02 295.79,80.97 295.86,80.93 295.94,80.88 296.02,80.84 296.09,80.79 296.17,80.74 296.24,80.70 296.32,80.65 296.39,80.60 296.47,80.55 296.54,80.50 296.62,80.45 296.69,80.40 296.77,80.35 296.84,80.30 296.92,80.25 296.99,80.20 297.07,80.14 297.14,80.09 297.22,80.04 297.29,79.98 297.37,79.93 297.44,79.87 297.52,79.81 297.60,79.76 297.67,79.70 297.75,79.64 297.82,79.59 297.90,79.53 297.97,79.47 298.05,79.41 298.12,79.35 298.20,79.29 298.27,79.22 298.35,79.16 298.42,79.10 298.50,79.03 298.57,78.97 298.65,78.90 298.72,78.84 298.80,78.77 298.87,78.71 298.95,78.64 299.03,78.57 299.10,78.50 299.18,78.43 299.25,78.36 299.33,78.29 299.40,78.22 299.48,78.15 299.55,78.07 299.63,78.00 299.70,77.92 299.78,77.85 299.85,77.77 299.93,77.69 300.00,77.62 300.08,77.54 300.15,77.46 300.23,77.38 300.30,77.30 300.38,77.22 300.45,77.13 300.53,77.05 300.61,76.96 300.68,76.88 300.76,76.79 300.83,76.70 300.91,76.62 300.98,76.53 301.06,76.44 301.13,76.35 301.21,76.25 301.28,76.16 301.36,76.07 301.43,75.97 301.51,75.87 301.58,75.78 301.66,75.68 301.73,75.58 301.81,75.48 301.88,75.38 301.96,75.27 302.04,75.17 302.11,75.07 302.19,74.96 302.26,74.85 302.34,74.74 302.41,74.63 302.49,74.52 302.56,74.41 302.64,74.29 302.71,74.18 302.79,74.06 302.86,73.94 302.94,73.83 303.01,73.70 303.09,73.58 303.16,73.46 303.24,73.33 303.31,73.21 303.39,73.08 303.46,72.95 303.54,72.82 303.62,72.68 303.69,72.55 303.77,72.41 303.84,72.27 303.92,72.13 303.99,71.99 304.07,71.85 304.14,71.70 304.22,71.56 304.29,71.41 304.37,71.25 304.44,71.10 304.52,70.95 304.59,70.79 304.67,70.63 304.74,70.47 304.82,70.30 304.89,70.14 304.97,69.97 305.05,69.80 305.12,69.63 305.20,69.45 305.27,69.27 305.35,69.09 305.42,68.91 305.50,68.72 305.57,68.53 305.65,68.34 305.72,68.15 305.80,67.95 305.87,67.75 305.95,67.55 306.02,67.34 306.10,67.13 306.17,66.92 306.25,66.70 306.32,66.48 306.40,66.26 306.48,66.03 306.55,65.80 306.63,65.57 306.70,65.33 306.78,65.09 306.85,64.84 306.93,64.59 307.00,64.33 307.08,64.07 307.15,63.81 307.23,63.54 307.30,63.27 307.38,62.99 307.45,62.71 307.53,62.42 307.60,62.12 307.68,61.82 307.75,61.52 307.83,61.21 307.90,60.89 307.98,60.57 308.06,60.24 308.13,59.90 308.21,59.56 308.28,59.20 308.36,58.85 308.43,58.48 308.51,58.11 308.58,57.72 308.66,57.33 308.73,56.94 308.81,56.53 308.88,56.11 308.96,55.68 309.03,55.25 309.11,54.80 309.18,54.34 309.26,53.87 309.33,53.39 309.41,52.89 309.49,52.39 309.56,51.87 309.64,51.33 309.71,50.79 309.79,50.22 309.86,49.64 309.94,49.05 310.01,48.44 310.09,47.80 310.16,47.15 310.24,46.48 310.31,45.79 310.39,45.08 310.46,44.34 310.54,43.58 310.61,42.79 310.69,41.98 310.76,41.14 310.84,40.26 310.91,39.36 310.99,38.41 311.07,37.44 311.14,36.42 311.22,35.36 311.29,34.26 311.37,33.11 311.44,31.90 311.52,30.65 311.59,29.33 311.67,27.95 311.74,26.50 311.82,24.97 311.89,23.36 311.97,21.66 312.04,19.86 312.12,17.96 312.19,15.93 312.27,13.77 312.34,11.47 312.42,9.00 312.50,6.35 312.57,3.49 312.65,0.38 312.72,-2.99 312.80,-6.67 312.87,-10.73 312.95,-15.21 313.02,-20.20 313.10,-25.81 313.17,-32.17 313.25,-35.86 313.32,-35.86 313.40,-35.86 313.47,-35.86 313.55,-35.86 313.62,-35.86 313.70,-35.86 313.77,-35.86 313.85,-35.86 313.92,-35.86" stroke="#f00" stroke-width="1.7" stroke-dasharray="4.5 1.4" fill="none"/>
<path d="M237.90 120.30V118.00M238.35 120.30V117.71M238.80 120.30V117.80M239.25 120.30V117.99M239.70 120.30V118.05M240.15 120.30V118.19M240.60 120.30V117.74M241.05 120.30V118.13M241.50 120.30V117.64M241.95 120.30V117.70M242.40 120.30V117.32M242.85 120.30V117.42M243.30 120.30V118.07M243.75 120.30V117.75M244.20 120.30V117.93M244.65 120.30V117.58M245.10 120.30V117.66M245.55 120.30V118.11M246.00 120.30V117.51M246.45 120.30V117.85M246.90 120.30V117.70M247.35 120.30V117.36M247.80 120.30V117.89M248.25 120.30V117.60M248.70 120.30V117.38M249.15 120.30V117.11M249.60 120.30V117.67M250.05 120.30V117.93M250.50 120.30V117.87M250.95 120.30V117.27M251.40 120.30V117.14M251.85 120.30V117.31M252.30 120.30V117.42M252.75 120.30V117.13M253.20 120.30V117.50M253.65 120.30V117.84M254.10 120.30V117.28M254.55 120.30V117.07M255.00 120.30V117.54M255.45 120.30V117.93M255.90 120.30V117.75M256.35 120.30V117.79M256.80 120.30V117.77M257.25 120.30V117.45M257.70 120.30V117.80M258.15 120.30V117.23M258.60 120.30V116.88M259.05 120.30V117.51M259.50 120.30V117.40M259.95 120.30V116.64M260.40 120.30V117.58M260.85 120.30V117.49M261.30 120.30V117.02M261.75 120.30V117.75M262.20 120.30V117.26M262.65 120.30V116.47M263.10 120.30V117.02M263.55 120.30V116.78M264.00 120.30V116.45M264.45 120.30V116.45M264.90 120.30V117.08M265.35 120.30V117.46M265.80 120.30V117.49M266.25 120.30V117.26M266.70 120.30V117.04M267.15 120.30V117.51M267.60 120.30V117.34M268.05 120.30V117.42M268.50 120.30V116.50M268.95 120.30V117.02M269.40 120.30V116.81M269.85 120.30V116.00M270.30 120.30V116.57M270.75 120.30V117.16M271.20 120.30V116.70M271.65 120.30V115.84M272.10 120.30V117.16M272.55 120.30V116.25M273.00 120.30V116.17M273.45 120.30V116.15M273.90 120.30V115.49M274.35 120.30V116.54M274.80 120.30V116.67M275.25 120.30V115.92M275.70 120.30V116.25M276.15 120.30V115.24M276.60 120.30V115.09M277.05 120.30V115.08M277.50 120.30V116.24M277.95 120.30V115.90M278.40 120.30V116.54M278.85 120.30V115.98M279.30 120.30V114.33M279.75 120.30V114.27M280.20 120.30V114.12M280.65 120.30V115.78M281.10 120.30V115.76M281.55 120.30V114.60M282.00 120.30V113.94M282.45 120.30V114.30M282.90 120.30V115.71M283.35 120.30V113.35M283.80 120.30V113.66M284.25 120.30V115.17M284.70 120.30V114.60M285.15 120.30V112.53M285.60 120.30V114.13M286.05 120.30V112.95M286.50 120.30V114.74M286.95 120.30V111.97M287.40 120.30V114.40M287.85 120.30V111.26M288.30 120.30V113.34M288.75 120.30V113.99M289.20 120.30V110.52M289.65 120.30V112.04M290.10 120.30V112.18M290.55 120.30V110.23M291.00 120.30V112.49M291.45 120.30V112.30M291.90 120.30V111.95M292.35 120.30V112.31M292.80 120.30V110.88M293.25 120.30V109.31M293.70 120.30V109.81M294.15 120.30V108.94M294.60 120.30V108.36M295.05 120.30V108.41M295.50 120.30V110.82M295.95 120.30V109.25M296.40 120.30V104.73M296.85 120.30V107.06M297.30 120.30V104.59M297.75 120.30V107.62M298.20 120.30V105.71M298.65 120.30V100.02M299.10 120.30V101.00M299.55 120.30V96.20M300.00 120.30V98.13M300.45 120.30V97.96M300.90 120.30V97.30M301.35 120.30V95.42M301.80 120.30V90.48M302.25 120.30V84.52M302.70 120.30V88.26M303.15 120.30V80.60M303.60 120.30V91.53M324.75 120.30V93.45M325.20 120.30V85.09M325.65 120.30V97.58M326.10 120.30V90.81M326.55 120.30V100.45M327.00 120.30V101.96M327.45 120.30V98.44M327.90 120.30V98.65M328.35 120.30V102.95M328.80 120.30V101.35M329.25 120.30V106.31M329.70 120.30V107.57M330.15 120.30V106.02M330.60 120.30V103.18M331.05 120.30V105.97M331.50 120.30V107.74M331.95 120.30V108.97M332.40 120.30V106.35M332.85 120.30V110.31M333.30 120.30V106.33M333.75 120.30V107.57M334.20 120.30V109.82M334.65 120.30V110.75M335.10 120.30V109.66M335.55 120.30V111.69M336.00 120.30V110.34M336.45 120.30V112.01M336.90 120.30V113.76M337.35 120.30V113.91M337.80 120.30V113.39M338.25 120.30V114.25M338.70 120.30V111.58M339.15 120.30V113.91M339.60 120.30V114.06M340.05 120.30V114.68M340.50 120.30V114.50M340.95 120.30V112.48M341.40 120.30V114.86M341.85 120.30V114.81M342.30 120.30V115.81M342.75 120.30V114.64M343.20 120.30V115.50M343.65 120.30V116.11M344.10 120.30V115.99M344.55 120.30V116.20M345.00 120.30V115.68M345.45 120.30V115.14M345.90 120.30V114.89M346.35 120.30V115.08M346.80 120.30V115.88M347.25 120.30V114.75M347.70 120.30V115.39M348.15 120.30V116.81M348.60 120.30V115.26M349.05 120.30V115.66M349.50 120.30V116.82M349.95 120.30V116.24M350.40 120.30V115.79M350.85 120.30V116.24M351.30 120.30V116.15M351.75 120.30V116.95M352.20 120.30V117.16M352.65 120.30V117.25M353.10 120.30V116.61M353.55 120.30V116.57M354.00 120.30V116.83M354.45 120.30V116.44M354.90 120.30V116.91M355.35 120.30V116.75M355.80 120.30V116.70M356.25 120.30V117.62M356.70 120.30V116.81M357.15 120.30V116.85M357.60 120.30V117.20M358.05 120.30V117.26M358.50 120.30V116.95M358.95 120.30V117.14M359.40 120.30V117.75M359.85 120.30V117.11M360.30 120.30V117.34M360.75 120.30V117.93M361.20 120.30V117.30M361.65 120.30V117.33M362.10 120.30V117.53M362.55 120.30V117.62M363.00 120.30V117.22M363.45 120.30V117.17M363.90 120.30V118.14M364.35 120.30V117.39M364.80 120.30V117.77M365.25 120.30V118.02M365.70 120.30V118.04M366.15 120.30V118.12M366.60 120.30V117.42M367.05 120.30V117.57M367.50 120.30V117.54M367.95 120.30V118.12M368.40 120.30V117.92M368.85 120.30V118.34M369.30 120.30V117.99M369.75 120.30V118.26M370.20 120.30V118.14M370.65 120.30V118.30M371.10 120.30V117.77M371.55 120.30V117.73M372.00 120.30V117.77M372.45 120.30V118.18M372.90 120.30V117.74M373.35 120.30V118.22M373.80 120.30V118.29M374.25 120.30V118.23M374.70 120.30V118.15M375.15 120.30V118.35M375.60 120.30V118.19M376.05 120.30V118.14M376.50 120.30V117.97M376.95 120.30V118.15M377.40 120.30V117.97" stroke="#0f0" stroke-width="0.95" fill="none"/>
<rect x="304.0" y="64.9" width="2.2" height="55.10" fill="#0f0"/>
<rect x="305.9" y="30.0" width="2.2" height="90.00" fill="#0f0"/>
<rect x="307.8" y="0" width="11.4" height="120.00" fill="#0f0"/>
<rect x="319.0" y="35.6" width="2.9" height="84.40" fill="#0f0"/>
<rect x="321.7" y="66.2" width="2.6" height="53.80" fill="#0f0"/>
<rect x="313.2" y="0" width="1.3" height="119.40" fill="#fff"/>
<path d="M311.0 8V119.4M316.7 8V119.4" stroke="#6f6" stroke-width="0.45"/>
<rect x="307.4" y="111.8" width="1.0" height="7.6" fill="#fff"/>
<rect x="304.5" y="118.3" width="8.7" height="1.1" fill="#eee"/>
<path d="M313.5 8.5L314.2 70" stroke="#f00" stroke-width="0.8" stroke-dasharray="4.5 1.4" fill="none"/>
<path d="M314.2 70L314.8 119.90" stroke="#f00" stroke-width="1.5" stroke-dasharray="4.5 1.4" fill="none"/>
</g>
<path d="M314.8 120.15H377.50" stroke="#f00" stroke-width="1.4" stroke-dasharray="4.5 1.4" fill="none"/>
<path d="M321.9 41.2h10.4" stroke="#f00" stroke-width="1.5" stroke-dasharray="4.3 1.8"/>
<path d="M322 65.9h10.6" stroke="#0f0" stroke-width="1.5"/>
<text x="339.00" y="43.90" font-size="10" text-anchor="start"  style=""><tspan font-style="italic">G</tspan>(<tspan font-style="italic">ω</tspan>+<tspan font-style="italic">ω</tspan><tspan font-size="7" dy="1.8">0</tspan><tspan dy="-1.8">)</tspan></text>
<text x="339.00" y="68.90" font-size="10" text-anchor="start"  style=""><tspan font-style="italic">F</tspan><tspan font-size="7.5" dy="1.8" font-style="italic">t</tspan><tspan dy="-1.8">(</tspan><tspan font-style="italic">ω</tspan>)</text>
<text x="368.40" y="21.00" font-size="11.2" text-anchor="middle"  style="">(b)</text>
<rect x="237.50" y="166.50" width="139.00" height="110.70" fill="none" stroke="#b4b4b4" stroke-width="0.9"/>
<path d="M254.34 277.20v-2.2" stroke="#808080" stroke-width="0.55"/>
<text x="253.94" y="292.20" font-size="14.4" text-anchor="middle"  style="">3.16</text>
<path d="M306.90 277.20v-2.2" stroke="#808080" stroke-width="0.55"/>
<text x="306.50" y="292.20" font-size="14.4" text-anchor="middle"  style="">3.2</text>
<path d="M359.46 277.20v-2.2" stroke="#808080" stroke-width="0.55"/>
<text x="359.06" y="292.20" font-size="14.4" text-anchor="middle"  style="">3.24</text>
<path d="M237.50 166.50h2.2" stroke="#808080" stroke-width="0.55"/>
<text x="234.90" y="170.80" font-size="14.4" text-anchor="end"  style=""><tspan font-style="italic" font-size="16">π</tspan></text>
<path d="M237.50 221.85h2.2" stroke="#808080" stroke-width="0.55"/>
<text x="234.90" y="226.15" font-size="14.4" text-anchor="end"  style="">0</text>
<path d="M237.50 277.20h2.2" stroke="#808080" stroke-width="0.55"/>
<text x="234.90" y="281.50" font-size="14.4" text-anchor="end"  style="">−<tspan font-style="italic" font-size="16">π</tspan></text>
<text x="307.20" y="310.60" font-size="16" text-anchor="middle"  style=""><tspan font-style="italic">a</tspan><tspan font-size="11" dy="3">2</tspan><tspan dy="-3">/</tspan><tspan font-style="italic">J</tspan></text>
<text transform="translate(210.4,223) rotate(-90)" font-size="16" text-anchor="middle" font-style="italic">ϵT</text>
<path d="M241.20 207.3V263.1" stroke="#00f" stroke-width="3.1" stroke-linecap="round"/>
<circle cx="241.20" cy="201.5" r="1.55" fill="#00f"/>
<path d="M306.90 207.3V263.1" stroke="#00f" stroke-width="3.1" stroke-linecap="round"/>
<circle cx="306.90" cy="201.5" r="1.55" fill="#00f"/>
<path d="M372.60 207.3V263.1" stroke="#00f" stroke-width="3.1" stroke-linecap="round"/>
<circle cx="372.60" cy="201.5" r="1.55" fill="#00f"/>
<text x="367.80" y="178.00" font-size="11.5" text-anchor="middle"  style="">(d)</text>
</svg>
</body></html>
